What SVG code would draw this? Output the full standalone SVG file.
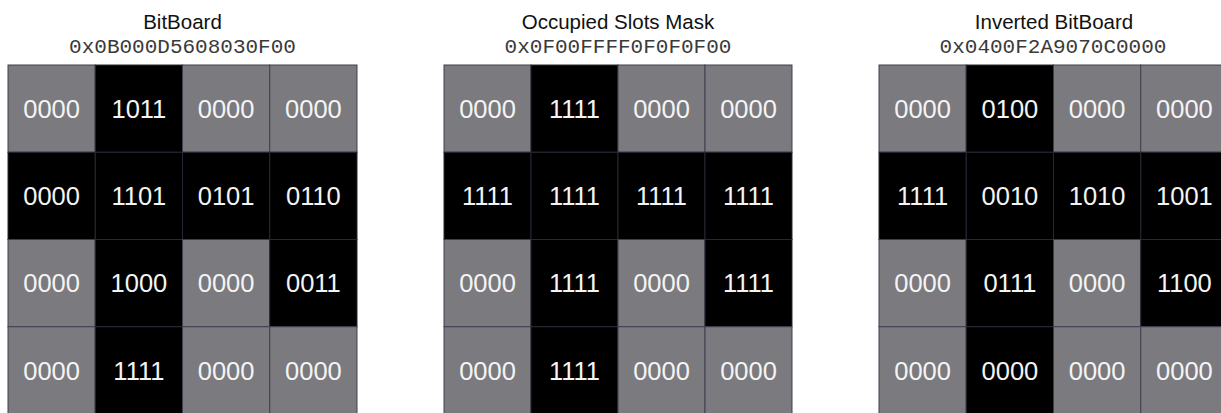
<svg xmlns="http://www.w3.org/2000/svg" width="1221" height="413" viewBox="0 0 1221 413">
<style>
.title{font-family:"Liberation Sans",Arial,Helvetica,sans-serif;font-size:20.5px;fill:#111;text-anchor:middle}
.hex{font-family:"Liberation Mono","Courier New",monospace;font-size:21px;fill:#3a3a3a;text-anchor:middle}
.g{fill:#7b7a7f;stroke:#423e4e;stroke-width:1}
.b{fill:#000;stroke:#2a2733;stroke-width:1}
.t{font-family:"Liberation Sans",Arial,Helvetica,sans-serif;font-size:25.5px;fill:#f4f4f4;text-anchor:middle}
</style>
<rect width="1221" height="413" fill="#fff"/>
<g id="bitboard">
<text class="title" x="182.5" y="29">BitBoard</text>
<text class="hex" x="182.5" y="53">0x0B000D5608030F00</text>
<rect class="g" x="8" y="65" width="87.25" height="87.25"/>
<rect class="b" x="95.25" y="65" width="87.25" height="87.25"/>
<rect class="g" x="182.5" y="65" width="87.25" height="87.25"/>
<rect class="g" x="269.75" y="65" width="87.25" height="87.25"/>
<rect class="b" x="8" y="152.25" width="87.25" height="87.25"/>
<rect class="b" x="95.25" y="152.25" width="87.25" height="87.25"/>
<rect class="b" x="182.5" y="152.25" width="87.25" height="87.25"/>
<rect class="b" x="269.75" y="152.25" width="87.25" height="87.25"/>
<rect class="g" x="8" y="239.5" width="87.25" height="87.25"/>
<rect class="b" x="95.25" y="239.5" width="87.25" height="87.25"/>
<rect class="g" x="182.5" y="239.5" width="87.25" height="87.25"/>
<rect class="b" x="269.75" y="239.5" width="87.25" height="87.25"/>
<rect class="g" x="8" y="326.75" width="87.25" height="87.25"/>
<rect class="b" x="95.25" y="326.75" width="87.25" height="87.25"/>
<rect class="g" x="182.5" y="326.75" width="87.25" height="87.25"/>
<rect class="g" x="269.75" y="326.75" width="87.25" height="87.25"/>
<text class="t" x="51.6" y="117.8">0000</text>
<text class="t" x="138.9" y="117.8">1011</text>
<text class="t" x="226.1" y="117.8">0000</text>
<text class="t" x="313.4" y="117.8">0000</text>
<text class="t" x="51.6" y="205.1">0000</text>
<text class="t" x="138.9" y="205.1">1101</text>
<text class="t" x="226.1" y="205.1">0101</text>
<text class="t" x="313.4" y="205.1">0110</text>
<text class="t" x="51.6" y="292.3">0000</text>
<text class="t" x="138.9" y="292.3">1000</text>
<text class="t" x="226.1" y="292.3">0000</text>
<text class="t" x="313.4" y="292.3">0011</text>
<text class="t" x="51.6" y="379.6">0000</text>
<text class="t" x="138.9" y="379.6">1111</text>
<text class="t" x="226.1" y="379.6">0000</text>
<text class="t" x="313.4" y="379.6">0000</text>
</g>
<g id="mask">
<text class="title" x="618" y="29">Occupied Slots Mask</text>
<text class="hex" x="618" y="53">0x0F00FFFF0F0F0F00</text>
<rect class="g" x="444" y="65" width="87" height="87.25"/>
<rect class="b" x="531" y="65" width="87" height="87.25"/>
<rect class="g" x="618" y="65" width="87" height="87.25"/>
<rect class="g" x="705" y="65" width="87" height="87.25"/>
<rect class="b" x="444" y="152.25" width="87" height="87.25"/>
<rect class="b" x="531" y="152.25" width="87" height="87.25"/>
<rect class="b" x="618" y="152.25" width="87" height="87.25"/>
<rect class="b" x="705" y="152.25" width="87" height="87.25"/>
<rect class="g" x="444" y="239.5" width="87" height="87.25"/>
<rect class="b" x="531" y="239.5" width="87" height="87.25"/>
<rect class="g" x="618" y="239.5" width="87" height="87.25"/>
<rect class="b" x="705" y="239.5" width="87" height="87.25"/>
<rect class="g" x="444" y="326.75" width="87" height="87.25"/>
<rect class="b" x="531" y="326.75" width="87" height="87.25"/>
<rect class="g" x="618" y="326.75" width="87" height="87.25"/>
<rect class="g" x="705" y="326.75" width="87" height="87.25"/>
<text class="t" x="487.5" y="117.8">0000</text>
<text class="t" x="574.5" y="117.8">1111</text>
<text class="t" x="661.5" y="117.8">0000</text>
<text class="t" x="748.5" y="117.8">0000</text>
<text class="t" x="487.5" y="205.1">1111</text>
<text class="t" x="574.5" y="205.1">1111</text>
<text class="t" x="661.5" y="205.1">1111</text>
<text class="t" x="748.5" y="205.1">1111</text>
<text class="t" x="487.5" y="292.3">0000</text>
<text class="t" x="574.5" y="292.3">1111</text>
<text class="t" x="661.5" y="292.3">0000</text>
<text class="t" x="748.5" y="292.3">1111</text>
<text class="t" x="487.5" y="379.6">0000</text>
<text class="t" x="574.5" y="379.6">1111</text>
<text class="t" x="661.5" y="379.6">0000</text>
<text class="t" x="748.5" y="379.6">0000</text>
</g>
<g id="inverted">
<text class="title" x="1054" y="29">Inverted BitBoard</text>
<text class="hex" x="1053" y="53">0x0400F2A9070C0000</text>
<rect class="g" x="879" y="65" width="87.25" height="87.25"/>
<rect class="b" x="966.25" y="65" width="87.25" height="87.25"/>
<rect class="g" x="1053.5" y="65" width="87.25" height="87.25"/>
<rect class="g" x="1140.75" y="65" width="87.25" height="87.25"/>
<rect class="b" x="879" y="152.25" width="87.25" height="87.25"/>
<rect class="b" x="966.25" y="152.25" width="87.25" height="87.25"/>
<rect class="b" x="1053.5" y="152.25" width="87.25" height="87.25"/>
<rect class="b" x="1140.75" y="152.25" width="87.25" height="87.25"/>
<rect class="g" x="879" y="239.5" width="87.25" height="87.25"/>
<rect class="b" x="966.25" y="239.5" width="87.25" height="87.25"/>
<rect class="g" x="1053.5" y="239.5" width="87.25" height="87.25"/>
<rect class="b" x="1140.75" y="239.5" width="87.25" height="87.25"/>
<rect class="g" x="879" y="326.75" width="87.25" height="87.25"/>
<rect class="b" x="966.25" y="326.75" width="87.25" height="87.25"/>
<rect class="g" x="1053.5" y="326.75" width="87.25" height="87.25"/>
<rect class="g" x="1140.75" y="326.75" width="87.25" height="87.25"/>
<text class="t" x="922.6" y="117.8">0000</text>
<text class="t" x="1009.9" y="117.8">0100</text>
<text class="t" x="1097.1" y="117.8">0000</text>
<text class="t" x="1184.4" y="117.8">0000</text>
<text class="t" x="922.6" y="205.1">1111</text>
<text class="t" x="1009.9" y="205.1">0010</text>
<text class="t" x="1097.1" y="205.1">1010</text>
<text class="t" x="1184.4" y="205.1">1001</text>
<text class="t" x="922.6" y="292.3">0000</text>
<text class="t" x="1009.9" y="292.3">0111</text>
<text class="t" x="1097.1" y="292.3">0000</text>
<text class="t" x="1184.4" y="292.3">1100</text>
<text class="t" x="922.6" y="379.6">0000</text>
<text class="t" x="1009.9" y="379.6">0000</text>
<text class="t" x="1097.1" y="379.6">0000</text>
<text class="t" x="1184.4" y="379.6">0000</text>
</g>
<g id="connectors"/>
</svg>
